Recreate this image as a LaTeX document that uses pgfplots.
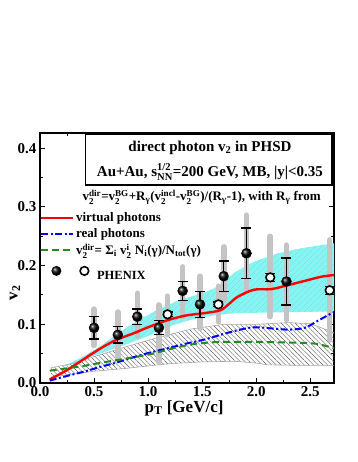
\documentclass[border=0pt]{standalone}
\usepackage{fontspec}
\setmainfont{Liberation Serif}
\usepackage{amsmath}
\usepackage{pgfplots}
\pgfplotsset{compat=1.18}
\usepgfplotslibrary{fillbetween}
\usetikzlibrary{patterns.meta}
\definecolor{bandcyan}{HTML}{84F4F4}
\definecolor{sysgray}{HTML}{C4C4C4}
\definecolor{dgreen}{HTML}{228B22}
\newcommand{\vv}[1]{v$^{\text{#1}}_{\text{2}}$}
\newcommand{\fs}[1]{\fontsize{#1}{#1}\selectfont\bfseries}

% filled: PHENIX virtual photons; open: PHENIX real photons
\pgfplotstableread{
x    y     stat  sysp  sysm
0.50 0.094 0.019 0.032 0.030
0.72 0.082 0.014 0.039 0.043
0.90 0.113 0.013 0.040 0.033
1.10 0.094 0.012 0.039 0.058
1.32 0.157 0.016 0.041 0.044
1.48 0.134 0.022 0.048 0.041
1.70 0.182 0.026 0.050 0.041
1.91 0.221 0.043 0.065 0.063
2.28 0.173 0.040 0.062 0.066
}\filled
\pgfplotstableread{
x    y     stat  sysp  sysm
1.18 0.117 0.004 0.031 0.035
1.65 0.134 0.004 0.031 0.030
2.13 0.180 0.007 0.070 0.067
2.68 0.158 0.007 0.086 0.085
}\opened

\begin{document}
\begin{tikzpicture}[font=\bfseries]
\path (0,0) rectangle (357pt,462pt);
\begin{axis}[
  at={(40pt,79pt)}, anchor=south west,
  scale only axis, width=294pt, height=250pt,
  xmin=0, xmax=2.72, ymin=0, ymax=0.426,
  xtick={0,0.5,...,2.5}, ytick={0,0.1,...,0.4},
  minor x tick num=1, minor y tick num=1,
  tick align=inside, major tick length=5pt, minor tick length=3pt,
  tick style={line width=1pt, black},
  axis line style={line width=1.1pt},
  /pgf/number format/assume math mode=true,
  ticklabel style={font=\fs{15}, /pgf/number format/fixed,
    /pgf/number format/fixed zerofill, /pgf/number format/precision=1},
  xlabel={p\textsubscript{T} [GeV/c]},
  ylabel={v\textsubscript{2}},
  label style={font=\fs{17}},
  xlabel style={at={(axis description cs:0.49,-0.1)}, anchor=center},
  ylabel style={at={(axis description cs:-0.085,0.36)}, anchor=center},
  legend image code/.code={\draw[#1] (0pt,0pt) -- (32pt,0pt);},
  legend style={at={(axis description cs:0,0.687)}, anchor=north west,
    draw=none, fill=none, inner xsep=0pt, inner ysep=0pt,
    font=\fs{13}, row sep=2pt,
    nodes={inner sep=1.5pt}},
  legend cell align=left,
]
% hatched band
\addplot[name path=hu, draw=gray!70, line width=0.6pt, forget plot] coordinates {
 (0.1,0.026) (0.3,0.033) (0.5,0.045) (0.8,0.062) (1.1,0.078) (1.4,0.092)
 (1.7,0.100) (2.0,0.100) (2.3,0.103) (2.5,0.101) (2.72,0.086)};
\addplot[name path=hl, draw=gray!70, line width=0.6pt, forget plot] coordinates {
 (0.1,0.010) (0.3,0.015) (0.5,0.020) (0.8,0.025) (1.0,0.029) (1.2,0.033)
 (1.5,0.036) (1.8,0.037) (2.0,0.034) (2.1,0.031) (2.4,0.030) (2.72,0.030)};
\addplot[pattern={Lines[angle=-45, distance=3.3pt, line width=0.4pt]},
  pattern color=black!65, forget plot] fill between[of=hu and hl];
% cyan band
\addplot[name path=cu, draw=none, forget plot] coordinates {
 (0.2,0.027) (0.3,0.036) (0.4,0.045) (0.5,0.056) (0.6,0.068) (0.7,0.082)
 (0.9,0.106) (1.1,0.126) (1.3,0.142) (1.45,0.150) (1.6,0.160) (1.7,0.172)
 (1.8,0.188) (1.9,0.199) (2.0,0.208) (2.2,0.221) (2.4,0.229) (2.6,0.235) (2.72,0.238)};
\addplot[name path=cl, draw=none, forget plot] coordinates {
 (0.2,0.027) (0.4,0.040) (0.6,0.053) (0.8,0.066) (1.0,0.080) (1.2,0.097)
 (1.4,0.108) (1.6,0.115) (1.8,0.119) (2.1,0.120) (2.4,0.121) (2.72,0.122)};
\addplot[fill=bandcyan, draw=none, forget plot] fill between[of=cu and cl];
\addplot[pattern={Lines[angle=45, distance=4pt, line width=0.3pt]},
  pattern color=gray!50, forget plot] fill between[of=cu and cl];
% systematic bars
\addplot[forget plot, draw=none, mark=none,
  error bars/.cd, y dir=both, y explicit, error mark=none,
  error bar style={line width=5.5pt, sysgray, line cap=round}]
  table[x=x, y=y, y error plus=sysp, y error minus=sysm] {\filled};
\addplot[forget plot, draw=none, mark=none,
  error bars/.cd, y dir=both, y explicit, error mark=none,
  error bar style={line width=5.5pt, sysgray, line cap=round}]
  table[x=x, y=y, y error plus=sysp, y error minus=sysm] {\opened};
% model curves
\addplot[red, line width=2.4pt, smooth] coordinates {
 (0.09,0.006) (0.25,0.022) (0.4,0.040) (0.56,0.059) (0.7,0.073) (0.87,0.085)
 (1.0,0.095) (1.18,0.107) (1.35,0.115) (1.52,0.119) (1.67,0.124) (1.75,0.135)
 (1.83,0.147) (1.98,0.159) (2.14,0.160) (2.30,0.167) (2.45,0.174) (2.6,0.181) (2.72,0.184)};
\addlegendentry{virtual photons}
\addplot[blue, line width=2pt, smooth, dash pattern=on 7pt off 2.5pt on 2pt off 2.5pt] coordinates {
 (0.09,0.004) (0.25,0.012) (0.40,0.019) (0.55,0.027) (0.71,0.035) (0.85,0.043)
 (1.02,0.052) (1.2,0.060) (1.35,0.067) (1.52,0.074) (1.67,0.082) (1.83,0.090)
 (1.98,0.095) (2.14,0.093) (2.30,0.091) (2.45,0.094) (2.57,0.106) (2.72,0.121)};
\addlegendentry{real photons}
\addplot[dgreen, line width=2pt, smooth, dash pattern=on 7pt off 4pt] coordinates {
 (0.09,0.021) (0.25,0.025) (0.40,0.029) (0.55,0.034) (0.71,0.039) (0.87,0.044)
 (1.02,0.049) (1.15,0.055) (1.30,0.062) (1.45,0.067) (1.67,0.070) (1.98,0.070)
 (2.30,0.069) (2.55,0.067) (2.72,0.059)};
\addlegendentry{\vv{dir}= Σ$_{\text{i}}$ \vv{i} N$_{\text{i}}$(γ)/N$_{\text{tot}}$(γ)}
% PHENIX data
\addplot[forget plot, only marks, mark=ball, mark size=5pt, mark options={ball color=black},
  error bars/.cd, y dir=both, y explicit,
  error bar style={line width=1.2pt, black},
  error mark options={rotate=90, mark size=5pt, line width=1.2pt, black}]
  table[x=x, y=y, y error=stat] {\filled};
\addplot[forget plot, only marks, mark=*, mark size=4.3pt,
  mark options={fill=white, draw=black, line width=1.6pt},
  error bars/.cd, y dir=both, y explicit,
  error bar style={line width=1.2pt, black},
  error mark options={rotate=90, mark size=5pt, line width=1.2pt, black}]
  table[x=x, y=y, y error=stat] {\opened};
\addlegendimage{legend image code/.code={
  \path[draw=none, fill=none] (0pt,0pt) -- (32pt,0pt);
  \shade[draw=none, ball color=black] (15pt,0pt) circle (5pt);
  \draw[overlay, draw=black, line width=1.6pt, fill=white] (43pt,0pt) circle (4.3pt);}}
\addlegendentry{\rule{0pt}{18pt}\hspace*{21pt}\fs{12.5}PHENIX}
% texts
\node[anchor=west, font=\fs{13}] at (axis description cs:0.133,0.744)
  {\vv{dir}=\vv{BG}+R$_{\text{γ}}$(\vv{incl}-\vv{BG})/(R$_{\text{γ}}$-1), with R$_{\text{γ}}$ from};
\node[name=box, draw=black, line width=1pt, fill=white, anchor=north west,
  minimum width=247pt, minimum height=51pt, inner sep=0pt]
  at (axis description cs:0.153,0.995) {};
\draw[line width=2.4pt] ([xshift=-1pt]box.north east) -- ([xshift=-1pt,yshift=1pt]box.south east)
  -- ([yshift=1pt]box.south west);
\node[font=\fs{15}] at (axis description cs:0.578,0.94) {direct photon v\textsubscript{2} in PHSD};
\node[font=\fs{15}] at (axis description cs:0.578,0.844)
  {Au+Au, s$^{\text{1/2}}_{\text{NN}}$=200 GeV, MB, |y|<0.35};
\end{axis}
\end{tikzpicture}
\end{document}
